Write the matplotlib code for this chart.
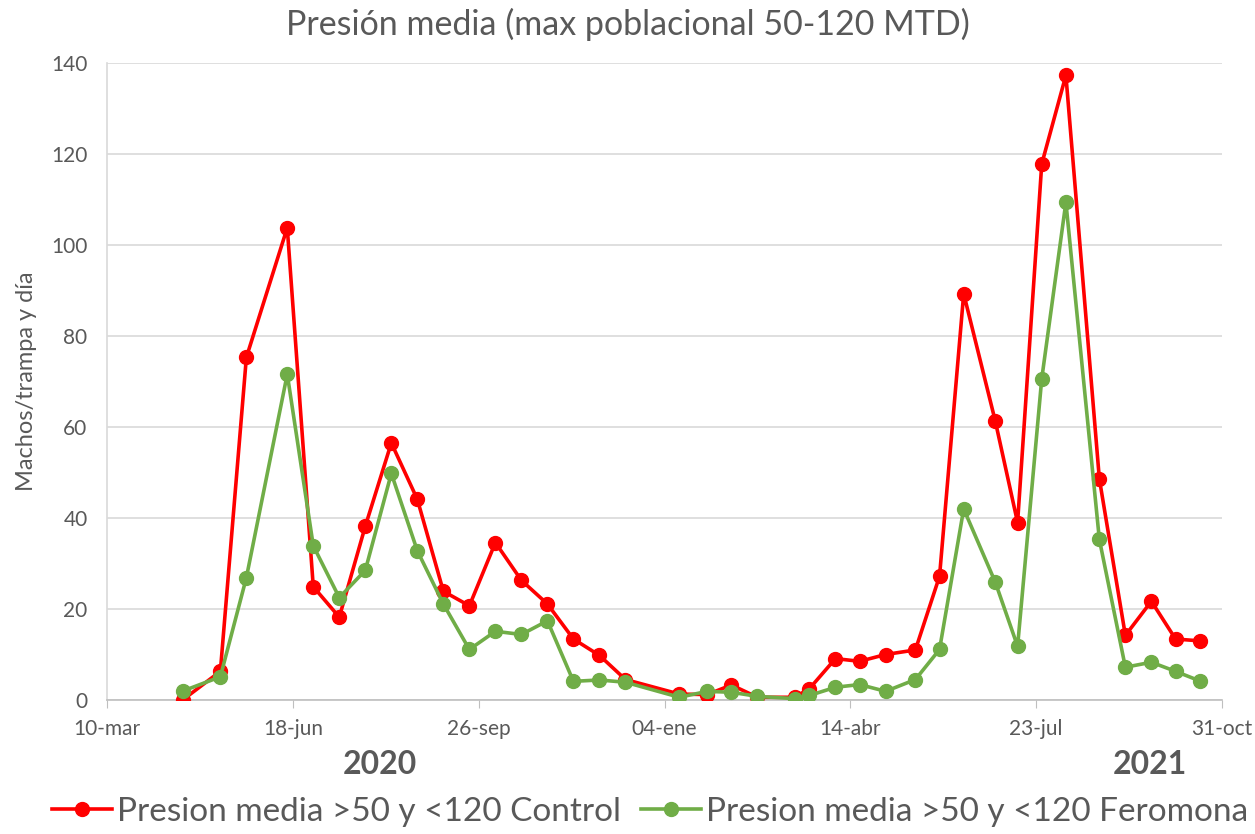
import matplotlib
matplotlib.use("Agg")
import matplotlib.pyplot as plt
import pandas as pd

# fechas de muestreo
fechas = ["2020-04-20", "2020-05-10", "2020-05-24", "2020-06-15", "2020-06-29",
          "2020-07-13", "2020-07-27", "2020-08-10", "2020-08-24", "2020-09-07",
          "2020-09-21", "2020-10-05", "2020-10-19", "2020-11-02", "2020-11-16",
          "2020-11-30", "2020-12-14", "2021-01-12", "2021-01-27", "2021-02-09",
          "2021-02-23", "2021-03-15", "2021-03-23", "2021-04-06", "2021-04-19",
          "2021-05-03", "2021-05-19", "2021-06-01", "2021-06-14", "2021-07-01",
          "2021-07-13", "2021-07-26", "2021-08-08", "2021-08-26", "2021-09-09",
          "2021-09-23", "2021-10-06", "2021-10-19"]

control = [0.1, 6.3, 75.3, 103.8, 24.9, 18.2, 38.2, 56.5, 44.1, 23.9,
           20.7, 34.6, 26.3, 21.1, 13.4, 9.8, 4.5, 1.3, 1.2, 3.3,
           0.6, 0.6, 2.5, 9.1, 8.5, 10.0, 11.0, 27.2, 89.3, 61.3,
           39.0, 117.8, 137.3, 48.6, 14.2, 21.7, 13.4, 13.0]

feromona = [2.0, 5.1, 26.9, 71.6, 33.9, 22.5, 28.5, 49.8, 32.8, 21.1,
            11.1, 15.1, 14.4, 17.4, 4.1, 4.4, 3.9, 0.6, 1.9, 1.7,
            0.8, 0.3, 1.0, 2.8, 3.4, 1.9, 4.5, 11.1, 42.0, 25.9,
            11.8, 70.6, 109.4, 35.3, 7.2, 8.3, 6.3, 4.2]

xtick_fechas = ["2020-03-10", "2020-06-18", "2020-09-26", "2021-01-04",
                "2021-04-14", "2021-07-23", "2021-10-31"]
xtick_labels = ["10-mar", "18-jun", "26-sep", "04-ene", "14-abr", "23-jul", "31-oct"]

x = pd.to_datetime(fechas)
xt = pd.to_datetime(xtick_fechas)

gris = "#595959"
plt.rcParams['font.family'] = ['Lato', 'DejaVu Sans']

fig = plt.figure(figsize=(12.55, 8.34), dpi=100)
ax = fig.add_axes([107 / 1255, 1 - 700 / 834, 1115 / 1255, 637 / 834])

ax.plot(x, control, color="#FF0000", marker="o", markersize=10, linewidth=2.6,
        label="Presion media >50 y <120 Control", zorder=3)
ax.plot(x, feromona, color="#70AD47", marker="o", markersize=10, linewidth=2.6,
        label="Presion media >50 y <120 Feromona", zorder=4)

ax.set_xlim(xt[0], xt[-1])
ax.set_ylim(0, 140)
ax.set_yticks(range(0, 141, 20))
ax.set_xticks(xt)
ax.set_xticklabels(xtick_labels)
ax.tick_params(axis='x', colors="#bfbfbf", labelcolor=gris, labelsize=15, length=6, pad=8)
ax.tick_params(axis='y', length=0, labelcolor=gris, labelsize=15, pad=14)

ax.grid(axis='y', color="#d9d9d9", linewidth=1.2)
ax.set_axisbelow(True)
for s in ["top", "right"]:
    ax.spines[s].set_visible(False)
ax.spines["left"].set_color("#d9d9d9")
ax.spines["left"].set_linewidth(1.2)
ax.spines["bottom"].set_color("#bfbfbf")
ax.spines["bottom"].set_linewidth(1.2)

ax.set_ylabel("Machos/trampa y día", color=gris, fontsize=17, labelpad=10)
fig.text(0.5, 1 - 24 / 834, "Presión media (max poblacional 50-120 MTD)",
         ha="center", va="center", fontsize=24.5, color=gris)

fig.text(380 / 1255, 1 - 765 / 834, "2020", ha="center", va="center",
         fontsize=23, fontweight="bold", color=gris)
fig.text(1150 / 1255, 1 - 765 / 834, "2021", ha="center", va="center",
         fontsize=23, fontweight="bold", color=gris)

leg = fig.legend(loc="center", bbox_to_anchor=(650 / 1255, 1 - 812 / 834), ncol=2,
                 frameon=False, fontsize=24, handlelength=1.8, handletextpad=0.15,
                 columnspacing=0.6, borderaxespad=0)
for t in leg.get_texts():
    t.set_color(gris)

fig.savefig("out.png", dpi=100)
